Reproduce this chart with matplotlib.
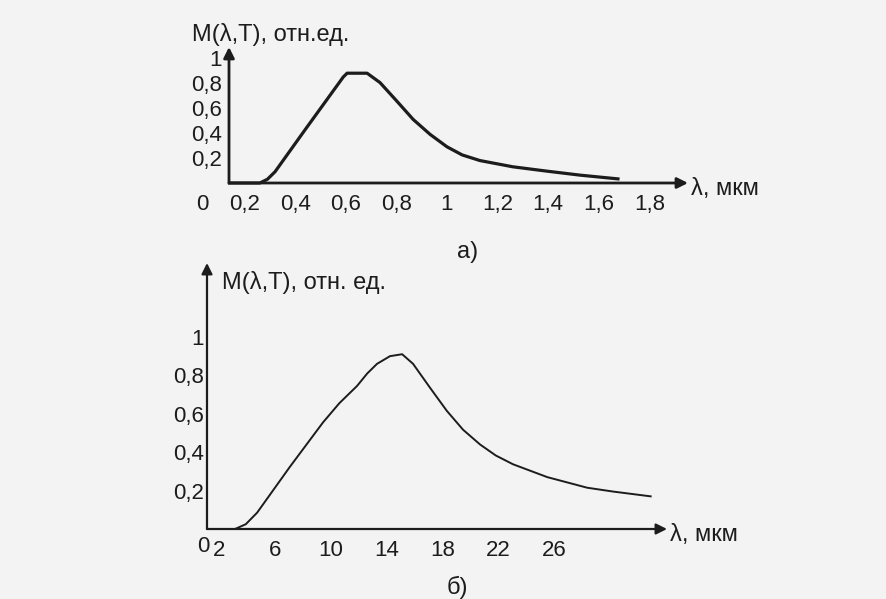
#spectral density curves M(lambda,T), two panels a) and b) like in the textbook figure
import matplotlib.pyplot as plt

#panel a) - visible / near IR range
lam_a = [0.14, 0.26, 0.29, 0.32, 0.44, 0.565, 0.59, 0.605, 0.684, 0.735, 0.80, 0.866, 0.933, 1.0, 1.06, 1.13, 1.26, 1.395, 1.526, 1.676]
m_a = [0.0, 0.0, 0.03, 0.09, 0.43, 0.78, 0.85, 0.88, 0.88, 0.805, 0.66, 0.51, 0.39, 0.29, 0.225, 0.18, 0.13, 0.095, 0.063, 0.033]
xticks_a = [0.2, 0.4, 0.6, 0.8, 1.0, 1.2, 1.4, 1.6, 1.8]
xlabels_a = ["0,2", "0,4", "0,6", "0,8", "1", "1,2", "1,4", "1,6", "1,8"]

#panel b) - far IR range
lam_b = [1.12, 3.13, 3.9, 4.71, 7.07, 9.43, 10.6, 11.87, 12.6, 13.3, 14.23, 15.1, 15.88, 17.1, 18.3, 19.46, 20.68, 21.8, 23.04, 25.5, 28.35, 30.2, 32.9]
m_b = [0.0, 0.0, 0.025, 0.085, 0.325, 0.555, 0.655, 0.745, 0.81, 0.86, 0.90, 0.91, 0.86, 0.735, 0.615, 0.517, 0.44, 0.383, 0.337, 0.27, 0.215, 0.195, 0.17]
xticks_b = [2, 6, 10, 14, 18, 22, 26]
xlabels_b = ["2", "6", "10", "14", "18", "22", "26"]

yticks = [0.2, 0.4, 0.6, 0.8, 1.0]
ylabels = ["0,2", "0,4", "0,6", "0,8", "1"]

plt.rcParams["font.family"] = ["Liberation Sans", "DejaVu Sans"]
INK = "#1c1c1c"
BG = "#f3f3f3"

W, H = 887, 599
fig = plt.figure(figsize=(W / 100, H / 100), dpi=100, facecolor=BG)


def px_axes(left, right, bottom, top):
    #axes box given in pixel coordinates of the picture
    return fig.add_axes([left / W, 1 - bottom / H, (right - left) / W, (bottom - top) / H])


def draw_panel(ax, lam, m, xlim, ylim, xt, xl, ylab, lw_curve, lw_axis, xpad, ypad, lab_off, zero_off):
    ax.set_facecolor("none")
    ax.plot(lam, m, color=INK, lw=lw_curve, solid_joinstyle="round", clip_on=False)
    ax.set_xlim(*xlim)
    ax.set_ylim(*ylim)
    for s in ax.spines.values():
        s.set_visible(False)
    #axes drawn as arrows
    arrow = dict(arrowstyle="-|>", color=INK, lw=lw_axis, mutation_scale=16, shrinkA=0, shrinkB=0)
    ax.annotate("", xy=(1, 0), xytext=(0, 0), xycoords="axes fraction", arrowprops=arrow)
    ax.annotate("", xy=(0, 1), xytext=(0, 0), xycoords="axes fraction", arrowprops=arrow)
    ax.set_xticks(xt, xl, fontsize=16, color=INK)
    ax.set_yticks(yticks, ylabels, fontsize=16, color=INK)
    ax.tick_params(axis="x", length=0, pad=8)
    ax.tick_params(axis="y", length=0, pad=ypad)
    ax.annotate("0", xy=(0, 0), xycoords="axes fraction", xytext=zero_off,
                textcoords="offset pixels", ha="center", va="center", fontsize=16, color=INK)
    ax.annotate(ylab, xy=(0, 1), xycoords="axes fraction", xytext=lab_off,
                textcoords="offset pixels", ha="left", va="center", fontsize=17, color=INK)
    ax.annotate("λ, мкм", xy=(1, 0), xycoords="axes fraction", xytext=(3, -6),
                textcoords="offset pixels", ha="left", va="center", fontsize=17, color=INK)


ax_a = px_axes(229, 688, 183, 47)
draw_panel(ax_a, lam_a, m_a, (0.138, 1.953), (0, 1.09), xticks_a, xlabels_a,
           "M(λ,T), отн.ед.", 2.3, 2.0, 8, 5, (-37, 12), (-27, -22))

ax_b = px_axes(207, 667, 529, 263)
draw_panel(ax_b, lam_b, m_b, (1.12, 34.07), (0, 1.385), xticks_b, xlabels_b,
           "M(λ,T), отн. ед.", 1.4, 1.6, 7, 2, (15, -19), (-4, -18))

fig.text(468 / W, 1 - 252 / H, "а)", ha="center", va="center", fontsize=17, color=INK)
fig.text(457 / W, 1 - 587 / H, "б)", ha="center", va="center", fontsize=17, color=INK)

fig.savefig("out.png", dpi=100, facecolor=BG)
plt.close(fig)
